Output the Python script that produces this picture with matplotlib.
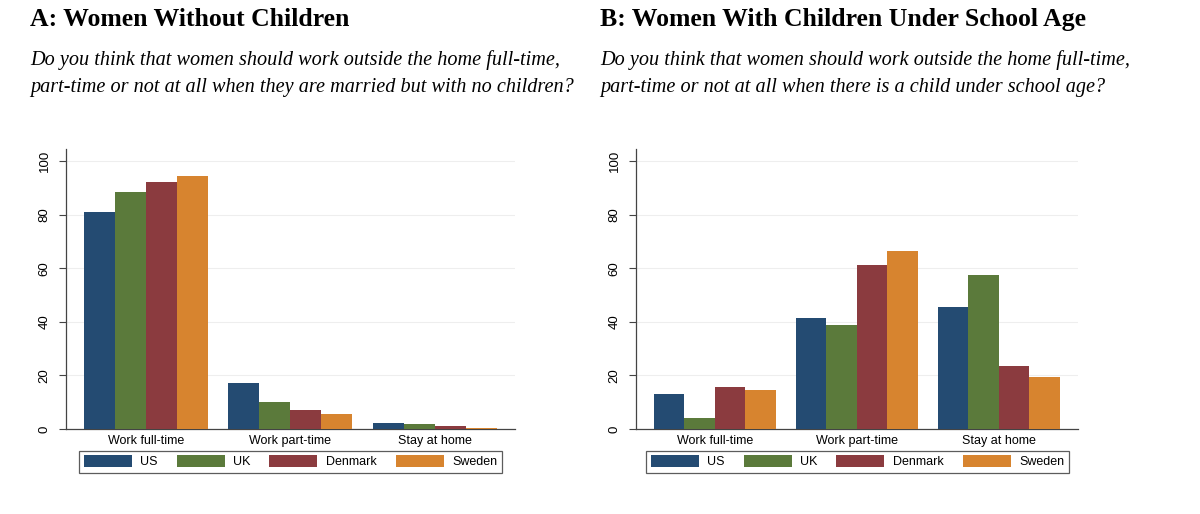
import numpy as np
import matplotlib
matplotlib.use('Agg')
import matplotlib.pyplot as plt
from matplotlib.patches import Patch

answers = ['Work full-time', 'Work part-time', 'Stay at home']
countries = ['US', 'UK', 'Denmark', 'Sweden']
colors = ['#244b72', '#5b7a3b', '#8b3b3f', '#d7842f']

# panel A: married, no children
no_kids = {
    'US': [81.0, 17.1, 2.1],
    'UK': [88.4, 9.9, 1.7],
    'Denmark': [92.2, 7.1, 1.0],
    'Sweden': [94.4, 5.7, 0.3],
}
# panel B: child under school age
with_kids = {
    'US': [13.2, 41.5, 45.4],
    'UK': [4.1, 38.7, 57.3],
    'Denmark': [15.6, 61.1, 23.4],
    'Sweden': [14.5, 66.5, 19.4],
}

titles = ['A: Women Without Children', 'B: Women With Children Under School Age']
questions = [
    ['Do you think that women should work outside the home full-time,',
     'part-time or not at all when they are married but with no children?'],
    ['Do you think that women should work outside the home full-time,',
     'part-time or not at all when there is a child under school age?'],
]

plt.rcParams['font.family'] = ['Liberation Sans', 'DejaVu Sans']
fig = plt.figure(figsize=(12, 5.14), dpi=100)

axes_pos = [[0.055, 0.1654, 0.374, 0.545], [0.530, 0.1654, 0.368, 0.545]]
title_x = [30 / 1200, 600 / 1200]
legend_x = [290.5 / 1200, 857.5 / 1200]

w = 0.861 / 4
x = np.arange(len(answers))

for p, data in enumerate([no_kids, with_kids]):
    ax = fig.add_axes(axes_pos[p])
    for i, c in enumerate(countries):
        ax.bar(x + (i - 1.5) * w, data[c], width=w, color=colors[i], zorder=3)
    ax.set_xlim(-0.556, 2.556)
    ax.set_ylim(0, 104.5)
    ax.set_yticks([0, 20, 40, 60, 80, 100])
    ax.set_yticklabels(['0', '20', '40', '60', '80', '100'], rotation=90, va='center', fontsize=9.5)
    ax.set_xticks(x)
    ax.set_xticklabels(answers, fontsize=9)
    ax.tick_params(axis='x', length=0, pad=4)
    ax.tick_params(axis='y', length=5, width=0.8, color='#444444', pad=6)
    ax.grid(axis='y', color='#eeeeee', linewidth=0.8, zorder=0)
    ax.spines['top'].set_visible(False)
    ax.spines['right'].set_visible(False)
    for s in ['left', 'bottom']:
        ax.spines[s].set_color('#444444')
        ax.spines[s].set_linewidth(0.9)

    fig.text(title_x[p], 1 - 26 / 514, titles[p], family='Liberation Serif', fontweight='bold',
             fontsize=18.5, va='baseline', ha='left')
    for k, line in enumerate(questions[p]):
        fig.text(title_x[p], 1 - (65 + 27 * k) / 514, line, family='Liberation Serif', style='italic',
                 fontsize=14.6, va='baseline', ha='left')

    handles = [Patch(facecolor=colors[i], label=c) for i, c in enumerate(countries)]
    leg = fig.legend(handles=handles, loc='center', bbox_to_anchor=(legend_x[p], 0.1015), ncol=4,
                     fontsize=9, frameon=True, fancybox=False, handlelength=3.84, handleheight=1.0,
                     handletextpad=0.7, columnspacing=1.5, borderpad=0.35)
    leg.get_frame().set_edgecolor('#333333')
    leg.get_frame().set_linewidth(0.9)

fig.savefig('out.png', dpi=100, facecolor='white')
